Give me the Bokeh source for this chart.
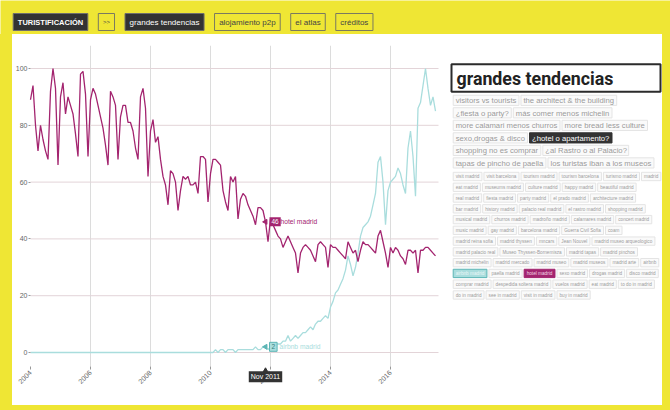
import math
from bokeh.plotting import figure
from bokeh.layouts import column, row
from bokeh.models import Range1d, FixedTicker, Label, Spacer
from bokeh.core.properties import value
from bokeh.embed import file_html
from bokeh.resources import INLINE

# ---------------- data ----------------
start_year = 2004
hotel_madrid = [
    89, 94, 80, 71, 80, 75, 71, 68, 92, 100, 93, 66,   # 2004
    90, 95, 84, 90, 87, 84, 77, 69, 98, 99, 91, 69,    # 2005
    89, 93, 91, 87, 83, 79, 73, 66, 92, 90, 87, 68,    # 2006
    83, 87, 87, 81, 81, 78, 72, 68, 90, 93, 86, 62,    # 2007
    78, 82, 74, 76, 68, 62, 59, 52, 64, 63, 60, 50,    # 2008
    57, 62, 61, 62, 59, 59, 60, 56, 69, 69, 68, 53,    # 2009
    63, 68, 68, 67, 66, 57, 53, 50, 62, 60, 62, 47,    # 2010
    54, 56, 55, 52, 50, 48, 45, 51, 51, 50, 46, 39,    # 2011
    47, 45, 43, 41, 40, 37, 39, 41, 39, 37, 35, 28,    # 2012
    35, 37, 38, 37, 36, 34, 32, 38, 39, 38, 37, 30,    # 2013
    38, 37, 37, 36, 35, 34, 33, 39, 37, 35, 36, 32,    # 2014
    36, 39, 38, 38, 37, 36, 35, 41, 43, 39, 35, 30,    # 2015
    37, 35, 37, 36, 34, 33, 31, 36, 36, 35, 36, 28,    # 2016
    36, 36, 37, 37, 36, 35, 34,                        # 2017
]
airbnb_madrid = [
    0, 0, 0, 0, 0, 0, 0, 0, 0, 0, 0, 0,                # 2004
    0, 0, 0, 0, 0, 0, 0, 0, 0, 0, 0, 0,                # 2005
    0, 0, 0, 0, 0, 0, 0, 0, 0, 0, 0, 0,                # 2006
    0, 0, 0, 0, 0, 0, 0, 0, 0, 0, 0, 0,                # 2007
    0, 0, 0, 0, 0, 0, 0, 0, 0, 0, 0, 0,                # 2008
    0, 0, 0, 0, 0, 0, 0, 0, 0, 0, 0, 0,                # 2009
    0, 0, 1, 0, 1, 1, 0, 1, 1, 1, 0, 1,                # 2010
    1, 1, 1, 1, 1, 1, 2, 1, 1, 2, 2, 1,                # 2011
    2, 2, 3, 3, 3, 4, 4, 6, 4, 5, 6, 5,                # 2012
    6, 7, 7, 8, 9, 8, 10, 11, 11, 12, 13, 12,          # 2013
    16, 18, 21, 22, 24, 26, 29, 34, 31, 27, 30, 35,    # 2014
    41, 44, 45, 46, 48, 52, 56, 67, 69, 60, 45, 57,    # 2015
    60, 61, 62, 65, 63, 59, 56, 72, 78, 69, 55, 86,    # 2016
    88, 94, 100, 93, 87, 90, 85,                       # 2017
]
series_names = ["hotel madrid", "airbnb madrid"]
tick_years = [2004, 2006, 2008, 2010, 2012, 2014, 2016]
y_ticks = [0, 20, 40, 60, 80, 100]
highlight_year = 2011
highlight_month = 11
highlight_label = "Nov 2011"

nav_items = ["TURISTIFICACIÓN", ">>", "grandes tendencias", "alojamiento p2p", "el atlas", "créditos"]
nav_active = ["TURISTIFICACIÓN", "grandes tendencias"]
panel_title = "grandes tendencias"
topic_rows = [
    ["visitors vs tourists", "the architect & the building"],
    ["¿fiesta o party?", "más comer menos michelin"],
    ["more calamari menos churros", "more bread less culture"],
    ["sexo,drogas & disco", "¿hotel o apartamento?"],
    ["shopping no es comprar", "¿al Rastro o al Palacio?"],
    ["tapas de pincho de paella", "los turistas iban a los museos"],
]
term_rows = [
    ["visit madrid", "visit barcelona", "tourism madrid", "tourism barcelona", "turismo madrid", "madrid"],
    ["eat madrid", "museums madrid", "culture madrid", "happy madrid", "beautiful madrid"],
    ["real madrid", "fiesta madrid", "party madrid", "el prado madrid", "architecture madrid"],
    ["bar madrid", "history madrid", "palacio real madrid", "el rastro madrid", "shopping madrid"],
    ["musical madrid", "churros madrid", "madroño madrid", "calamares madrid", "concert madrid"],
    ["music madrid", "gay madrid", "barcelona madrid", "Guerra Civil Sofia", "coam"],
    ["madrid reina sofia", "madrid thyssen", "mncars", "Jean Nouvel", "madrid museo arqueologico"],
    ["madrid palacio real", "Museo Thyssen-Bornemisza", "madrid tapas", "madrid pinchos"],
    ["madrid michelin", "madrid mercado", "madrid museo", "madrid museos", "madrid arte", "airbnb"],
    ["airbnb madrid", "paella madrid", "hotel madrid", "sexo madrid", "drogas madrid", "disco madrid"],
    ["comprar madrid", "despedida soltera madrid", "vuelos madrid", "eat madrid", "to do in madrid"],
    ["do in madrid", "see in madrid", "visit in madrid", "buy in madrid"],
]
active_topic = "¿hotel o apartamento?"

# ---------------- style ----------------
YELLOW = "#efe634"
DARK = "#333333"
MAGENTA = "#a3246f"
TEAL = "#a9dddd"
TEAL_DARK = "#5cb5b5"
TAG_FONT = "Liberation Sans"

W_REG = {" ": 278, "&": 667, ",": 278, "-": 333, ".": 278, "?": 556, ">": 584, "¿": 611,
         "a": 556, "b": 556, "c": 500, "d": 556, "e": 556, "f": 278, "g": 556, "h": 556, "i": 222,
         "j": 222, "k": 500, "l": 222, "m": 833, "n": 556, "o": 556, "p": 556, "q": 556, "r": 333,
         "s": 500, "t": 278, "u": 556, "v": 500, "w": 722, "x": 500, "y": 500, "z": 500,
         "á": 556, "é": 556, "í": 278, "ó": 556, "ñ": 556,
         "A": 667, "B": 667, "C": 722, "F": 611, "G": 778, "I": 278, "J": 500, "M": 833, "N": 722,
         "O": 778, "Ó": 778, "R": 722, "S": 667, "T": 611, "U": 722}
W_BOLD = {"A": 722, "C": 722, "F": 611, "I": 278, "N": 722, "O": 778, "Ó": 778, "R": 722,
          "S": 667, "T": 611, "U": 722}


def text_w(s, size, bold=False):
    tot = 0
    for ch in s:
        if bold and ch in W_BOLD:
            tot += W_BOLD[ch]
        else:
            tot += W_REG.get(ch, 556)
    return tot / 1000.0 * size


def bare(fig, bg):
    fig.background_fill_color = bg
    fig.border_fill_color = bg
    fig.outline_line_color = None
    return fig


# ---------------- header ----------------
H = bare(figure(width=670, height=34, x_range=Range1d(0, 670), y_range=Range1d(34, 0),
                x_axis_type=None, y_axis_type=None, min_border=0,
                output_backend="svg", toolbar_location=None), YELLOW)
bx, pad, gap = 12.7, 4.6, 10.5
hl, hr, hc, hfill, hline, hcol = [], [], [], [], [], []
for item in nav_items:
    bold = item == nav_items[0]
    size = 6 if item == ">>" else (7.5 if bold else 8)
    w = text_w(item, size, bold) + 2 * pad
    act = item in nav_active
    hl.append(bx); hr.append(bx + w); hc.append(bx + w / 2)
    hfill.append(DARK if act else YELLOW)
    hline.append("#6e6e6e" if act else "#7a7a60")
    hcol.append("#ffffff" if act else "#444444")
    bx += w + gap
H.quad(left=hl, right=hr, top=13, bottom=30, fill_color=hfill, line_color=hline, line_width=1)
H.text(x=hc[:1], y=[21.8], text=nav_items[:1], text_align="center", text_baseline="middle",
       text_font=value(TAG_FONT), text_font_style="bold", text_font_size=value("7.5px"), text_color=hcol[:1])
H.text(x=[hc[1]], y=[21.8], text=[nav_items[1]], text_align="center", text_baseline="middle",
       text_font=value(TAG_FONT), text_font_size=value("6px"), text_color=[hcol[1]])
H.text(x=hc[2:], y=[21.8] * 4, text=nav_items[2:], text_align="center", text_baseline="middle",
       text_font=value(TAG_FONT), text_font_size=value("8px"), text_color=hcol[2:])

# ---------------- chart ----------------
X_START, X_END = 2003.4, 2017.8          # frame spans the whole chart canvas
X_DATA_END = 2017.6                      # right end of the grid
Y_TOP, Y_BOT, Y_AXIS = 108.1, -18.66, -4.9
C = bare(figure(width=432, height=371, x_range=Range1d(X_START, X_END), y_range=Range1d(Y_BOT, Y_TOP),
                min_border_left=0, min_border_right=0, min_border_top=11, min_border_bottom=0,
                output_backend="svg", toolbar_location=None), "#ffffff")
xs = [start_year + i / 12.0 for i in range(len(hotel_madrid))]

# grid lines limited to the data area
C.xgrid.visible = False
C.ygrid.visible = False
C.segment(x0=tick_years[1:], x1=tick_years[1:], y0=Y_AXIS, y1=Y_TOP, line_color="#dcdcdc", line_width=1)
C.segment(x0=start_year, x1=X_DATA_END, y0=y_ticks, y1=y_ticks, line_color="#e3d4d8", line_width=1)

C.line(xs, airbnb_madrid, color=TEAL, line_width=1.3)
C.line(xs, hotel_madrid, color=MAGENTA, line_width=1.3)

for ax in (C.xaxis[0], C.yaxis[0]):
    ax.axis_line_color = None
    ax.minor_tick_line_color = None
    ax.major_tick_in = 0
    ax.major_tick_line_color = "#999999"
    ax.major_label_text_font = TAG_FONT
    ax.major_label_text_font_size = "7px"
    ax.major_label_text_color = "#666666"
C.yaxis.ticker = FixedTicker(ticks=y_ticks)
C.yaxis.fixed_location = start_year
C.yaxis.major_tick_out = 2
C.yaxis.major_label_standoff = 1
C.xaxis.ticker = FixedTicker(ticks=tick_years)
C.xaxis.fixed_location = Y_AXIS
C.xaxis.major_tick_out = 3
C.xaxis.major_label_standoff = 2
C.xaxis.major_label_orientation = math.pi / 4

hi = (highlight_year - start_year) * 12 + (highlight_month - 1)
hx = xs[hi]
hv, av = hotel_madrid[hi], airbnb_madrid[hi]
C.scatter([hx], [hv], marker="triangle", size=5, angle=math.pi / 2, color=MAGENTA)
C.scatter([hx], [av], marker="triangle", size=5, angle=math.pi / 2, color=TEAL_DARK)
C.add_layout(Label(x=hx, y=hv, text=str(hv), x_offset=4, text_align="left", text_baseline="middle",
                   text_color="#ffffff", text_font=TAG_FONT, text_font_size="6.5px",
                   background_fill_color=MAGENTA, padding=2))
C.add_layout(Label(x=hx, y=hv, text=series_names[0], x_offset=15, text_align="left",
                   text_baseline="middle", text_color=MAGENTA, text_font=TAG_FONT, text_font_size="6.7px"))
C.add_layout(Label(x=hx, y=av, text=str(av), x_offset=4, text_align="left", text_baseline="middle",
                   text_color="#2f7f7f", text_font=TAG_FONT, text_font_size="6.5px",
                   background_fill_color=TEAL, border_line_color=TEAL_DARK, padding=2))
C.add_layout(Label(x=hx, y=av, text=series_names[1], x_offset=14, text_align="left",
                   text_baseline="middle", text_color=TEAL, text_font=TAG_FONT, text_font_size="6.7px"))
# hover tooltip on the x axis
C.scatter([hx], [-6.4], marker="triangle", size=5, color=DARK)
C.add_layout(Label(x=hx, y=-8.5, text=highlight_label, text_align="center",
                   text_baseline="middle", text_color="#ffffff", text_font=TAG_FONT,
                   text_font_size="7px", background_fill_color=DARK, padding=2))

# ---------------- tags panel ----------------
T = bare(figure(width=218, height=371, x_range=Range1d(0, 218), y_range=Range1d(371, 0),
                x_axis_type=None, y_axis_type=None, min_border=0,
                output_backend="svg", toolbar_location=None), "#ffffff")
T.quad(left=7, right=216, top=19.3, bottom=47.7, fill_color="#ffffff", line_color="#2b2b2b", line_width=2)
T.text(x=[12], y=[34], text=[panel_title], text_baseline="middle", text_font=value("Roboto"),
       text_font_style="bold", text_font_size=value("17.8px"), text_color="#222222")


def flow(rows, x0, y0, pitch, size, pad, gap, h, styles):
    L, R, TOP, BOT, TX, TY, TXT, FILL, LINE, COL = [], [], [], [], [], [], [], [], [], []
    for r, tags in enumerate(rows):
        x = x0
        yc = y0 + r * pitch
        for t in tags:
            w = text_w(t, size) + 2 * pad
            fill, line, col = styles.get(t, ("#fafafa", "#e4e4e4", "#9a9a9a"))
            L.append(x); R.append(x + w); TOP.append(yc - h / 2); BOT.append(yc + h / 2)
            TX.append(x + pad); TY.append(yc + 0.3); TXT.append(t)
            FILL.append(fill); LINE.append(line); COL.append(col)
            x += w + gap
    T.quad(left=L, right=R, top=TOP, bottom=BOT, fill_color=FILL, line_color=LINE, line_width=1)
    T.text(x=TX, y=TY, text=TXT, text_baseline="middle", text_font=value(TAG_FONT),
           text_font_size=value("%.1fpx" % size), text_color=COL)


flow(topic_rows, 8.7, 56.5, 12.9, 7.7, 2.5, 2, 10.5, {active_topic: (DARK, DARK, "#ffffff")})
flow(term_rows, 8.7, 135, 11.1, 4.7, 2.5, 2, 8.6,
     {series_names[0]: (MAGENTA, MAGENTA, "#f3d9e6"), series_names[1]: (TEAL, TEAL_DARK, "#e9f7f7")})

left_strip = Spacer(width=12, height=371, styles={"background-color": YELLOW})
right_strip = Spacer(width=8, height=371, styles={"background-color": YELLOW})
bottom_strip = Spacer(width=670, height=5, styles={"background-color": YELLOW})
body = row(left_strip, C, T, right_strip, spacing=0, styles={"background-color": "#ffffff"})
layout = column(H, body, bottom_strip, spacing=0, styles={"background-color": "#ffffff"})

open("out.html", "w").write(file_html(layout, INLINE))
